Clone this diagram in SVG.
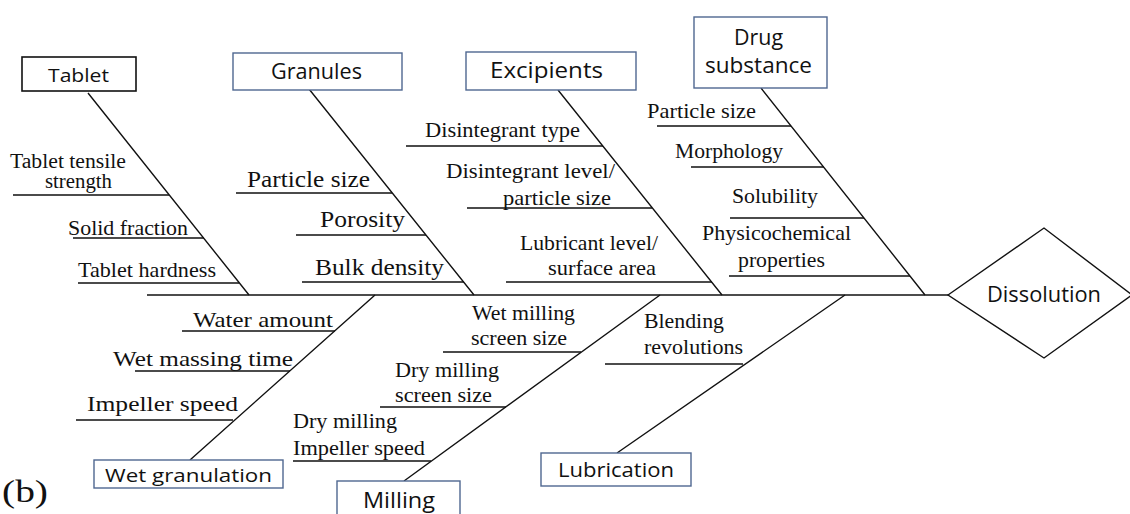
<svg xmlns="http://www.w3.org/2000/svg" width="1130" height="514" viewBox="0 0 1130 514">
<style>
.ln{stroke:#111;stroke-width:1.4;fill:none}
.bx{fill:#fff;stroke:#4f6790;stroke-width:1.4}
.bxk{fill:#fff;stroke:#111;stroke-width:1.6}
.sf{font-family:"Open Sans","Liberation Sans",sans-serif;fill:#111}
.rf{font-family:"Liberation Serif","Times New Roman",serif;fill:#111}
</style>
<rect width="1130" height="514" fill="#fff"/>
<g id="connectors">
<path class="ln" d="M147,295 H948"/>
<path class="ln" d="M88,93 L249,295 M309,89 L474,295 M558,90 L722,295 M761,88 L925,295"/>
<path class="ln" d="M375,295 L190,460 M660,295 L404,481 M845,295 L617,453"/>
<path class="ln" d="M13,195 H169 M73,238 H204 M78,283 H239"/>
<path class="ln" d="M236,193 H392 M296,235 H426 M302,282 H464"/>
<path class="ln" d="M406,146 H603 M467,208 H652 M506,282 H712"/>
<path class="ln" d="M657,126 H791 M691,167 H824 M730,218 H864 M729,276 H910"/>
<path class="ln" d="M182,331 H335 M135,371 H290 M76,420 H233"/>
<path class="ln" d="M443,352 H581 M380,407 H506 M293,461 H431"/>
<path class="ln" d="M605,364 H743"/>
</g>
<g id="effect-dissolution">
<polygon class="ln" points="948,295 1044,228 1132,295 1044,358" style="fill:#fff"/>
<text class="sf" x="987" y="302" font-size="22" textLength="114" lengthAdjust="spacingAndGlyphs">Dissolution</text>
</g>
<g id="cause-tablet">
<rect class="bxk" x="22" y="57" width="114" height="34"/>
<text class="sf" x="48" y="82" font-size="19" textLength="61" lengthAdjust="spacingAndGlyphs">Tablet</text>
</g>
<g id="cause-granules">
<rect class="bx" x="233" y="53" width="169" height="37"/>
<text class="sf" x="271" y="79" font-size="21" textLength="91" lengthAdjust="spacingAndGlyphs">Granules</text>
</g>
<g id="cause-excipients">
<rect class="bx" x="466" y="52" width="170" height="38"/>
<text class="sf" x="490" y="78" font-size="21" textLength="113" lengthAdjust="spacingAndGlyphs">Excipients</text>
</g>
<g id="cause-drug-substance">
<rect class="bx" x="694" y="17" width="133" height="71"/>
<text class="sf" x="734" y="45" font-size="21" textLength="49" lengthAdjust="spacingAndGlyphs">Drug</text>
<text class="sf" x="705" y="73" font-size="21" textLength="107" lengthAdjust="spacingAndGlyphs">substance</text>
</g>
<g id="cause-wet-granulation">
<rect class="bx" x="94" y="460" width="189" height="28"/>
<text class="sf" x="105" y="482" font-size="19" textLength="167" lengthAdjust="spacingAndGlyphs">Wet granulation</text>
</g>
<g id="cause-milling">
<rect class="bx" x="337" y="481" width="123" height="40"/>
<text class="sf" x="363" y="508" font-size="21" textLength="72" lengthAdjust="spacingAndGlyphs">Milling</text>
</g>
<g id="cause-lubrication">
<rect class="bx" x="541" y="453" width="150" height="33"/>
<text class="sf" x="558" y="477" font-size="20" textLength="116" lengthAdjust="spacingAndGlyphs">Lubrication</text>
</g>
<g id="factor-tablet-tensile-strength">
<text class="rf" x="10" y="168" font-size="20" textLength="116" lengthAdjust="spacingAndGlyphs">Tablet tensile</text>
<text class="rf" x="45" y="188" font-size="20" textLength="67" lengthAdjust="spacingAndGlyphs">strength</text>
</g>
<g id="factor-solid-fraction"><text class="rf" x="68" y="235" font-size="21" textLength="120" lengthAdjust="spacingAndGlyphs">Solid fraction</text></g>
<g id="factor-tablet-hardness"><text class="rf" x="78" y="277" font-size="21" textLength="138" lengthAdjust="spacingAndGlyphs">Tablet hardness</text></g>
<g id="factor-granule-particle-size"><text class="rf" x="247" y="187" font-size="24" textLength="123" lengthAdjust="spacingAndGlyphs">Particle size</text></g>
<g id="factor-porosity"><text class="rf" x="320" y="227" font-size="24" textLength="85" lengthAdjust="spacingAndGlyphs">Porosity</text></g>
<g id="factor-bulk-density"><text class="rf" x="315" y="275" font-size="24" textLength="129" lengthAdjust="spacingAndGlyphs">Bulk density</text></g>
<g id="factor-disintegrant-type"><text class="rf" x="425" y="137" font-size="21" textLength="155" lengthAdjust="spacingAndGlyphs">Disintegrant type</text></g>
<g id="factor-disintegrant-level">
<text class="rf" x="446" y="178" font-size="21" textLength="169" lengthAdjust="spacingAndGlyphs">Disintegrant level/</text>
<text class="rf" x="503" y="205" font-size="21" textLength="108" lengthAdjust="spacingAndGlyphs">particle size</text>
</g>
<g id="factor-lubricant-level">
<text class="rf" x="520" y="250" font-size="21" textLength="138" lengthAdjust="spacingAndGlyphs">Lubricant level/</text>
<text class="rf" x="548" y="275" font-size="21" textLength="108" lengthAdjust="spacingAndGlyphs">surface area</text>
</g>
<g id="factor-drug-particle-size"><text class="rf" x="647" y="118" font-size="21" textLength="109" lengthAdjust="spacingAndGlyphs">Particle size</text></g>
<g id="factor-morphology"><text class="rf" x="675" y="158" font-size="21" textLength="108" lengthAdjust="spacingAndGlyphs">Morphology</text></g>
<g id="factor-solubility"><text class="rf" x="732" y="203" font-size="21" textLength="86" lengthAdjust="spacingAndGlyphs">Solubility</text></g>
<g id="factor-physicochemical">
<text class="rf" x="702" y="240" font-size="21" textLength="149" lengthAdjust="spacingAndGlyphs">Physicochemical</text>
<text class="rf" x="738" y="267" font-size="21" textLength="87" lengthAdjust="spacingAndGlyphs">properties</text>
</g>
<g id="factor-water-amount"><text class="rf" x="193" y="327" font-size="22" textLength="140" lengthAdjust="spacingAndGlyphs">Water amount</text></g>
<g id="factor-wet-massing-time"><text class="rf" x="113" y="366" font-size="22" textLength="180" lengthAdjust="spacingAndGlyphs">Wet massing time</text></g>
<g id="factor-impeller-speed"><text class="rf" x="87" y="411" font-size="22" textLength="151" lengthAdjust="spacingAndGlyphs">Impeller speed</text></g>
<g id="factor-wet-milling-screen">
<text class="rf" x="472" y="320" font-size="21" textLength="103" lengthAdjust="spacingAndGlyphs">Wet milling</text>
<text class="rf" x="471" y="345" font-size="21" textLength="96" lengthAdjust="spacingAndGlyphs">screen size</text>
</g>
<g id="factor-dry-milling-screen">
<text class="rf" x="395" y="377" font-size="21" textLength="104" lengthAdjust="spacingAndGlyphs">Dry milling</text>
<text class="rf" x="395" y="402" font-size="21" textLength="97" lengthAdjust="spacingAndGlyphs">screen size</text>
</g>
<g id="factor-dry-milling-impeller">
<text class="rf" x="293" y="428" font-size="21" textLength="104" lengthAdjust="spacingAndGlyphs">Dry milling</text>
<text class="rf" x="293" y="455" font-size="21" textLength="132" lengthAdjust="spacingAndGlyphs">Impeller speed</text>
</g>
<g id="factor-blending-revolutions">
<text class="rf" x="644" y="328" font-size="21" textLength="80" lengthAdjust="spacingAndGlyphs">Blending</text>
<text class="rf" x="644" y="354" font-size="21" textLength="99" lengthAdjust="spacingAndGlyphs">revolutions</text>
</g>
<text class="rf" x="2" y="502" font-size="32" textLength="46" lengthAdjust="spacingAndGlyphs">(b)</text>
</svg>
